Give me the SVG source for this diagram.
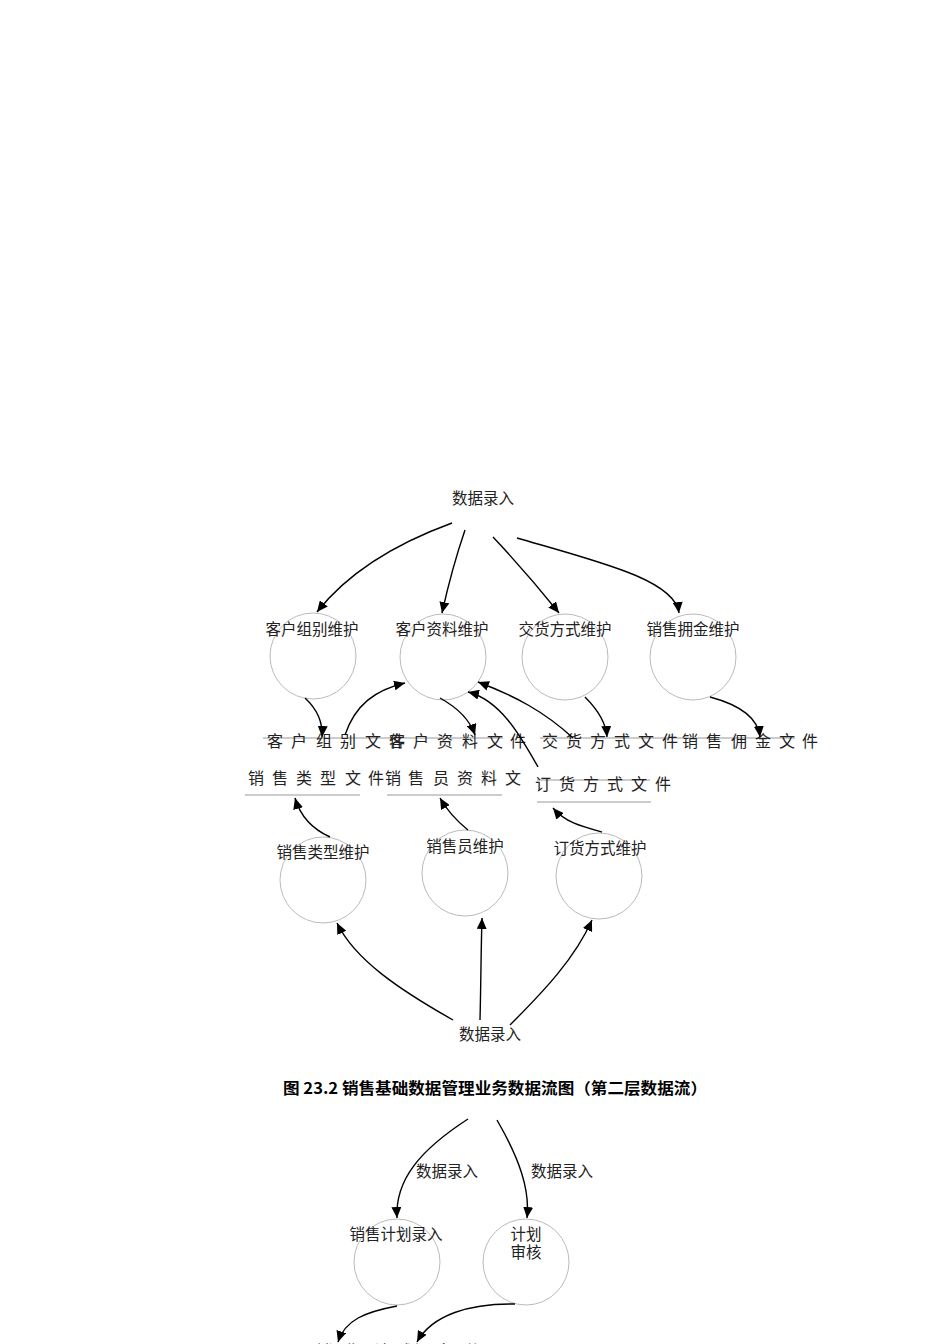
<svg xmlns="http://www.w3.org/2000/svg" width="950" height="1344" viewBox="0 0 950 1344">
<style>
.lbl{font-family:"Noto Sans CJK SC","Noto Sans CJK JP",sans-serif;font-size:15.5px;fill:#222;text-anchor:middle}
.file{font-family:"Noto Sans CJK SC","Noto Sans CJK JP",sans-serif;font-size:16px;fill:#222}
.proc{fill:none;stroke:#bbb;stroke-width:1}
.store{stroke:#999;stroke-width:1}
.flow{fill:none;stroke:#000;stroke-width:1.4;marker-end:url(#arr)}
.cap{font-family:"Noto Sans CJK SC",sans-serif;font-size:15.5px;font-weight:bold;fill:#000}
</style>
<defs>
<marker id="arr" markerUnits="userSpaceOnUse" markerWidth="12" markerHeight="10" refX="11" refY="5" orient="auto">
<path d="M0,0 L11,5 L0,10 z" fill="#000"/>
</marker>
</defs>
<rect width="950" height="1344" fill="#fff"/>

<g id="src-top"><text class="lbl" x="483" y="504">数据录入</text></g>

<g id="p-khzb"><circle class="proc" cx="313" cy="656" r="43"/><text class="lbl" x="312" y="635">客户组别维护</text></g>
<g id="p-khzl"><circle class="proc" cx="443" cy="657" r="43"/><text class="lbl" x="442" y="635">客户资料维护</text></g>
<g id="p-jhfs"><circle class="proc" cx="565" cy="657" r="43"/><text class="lbl" x="565" y="635">交货方式维护</text></g>
<g id="p-xsyj"><circle class="proc" cx="693" cy="657" r="43"/><text class="lbl" x="693" y="635">销售拥金维护</text></g>

<g id="f-khzb"><line class="store" x1="263" y1="738" x2="503" y2="738"/><text class="file" x="267 291 316 340 365 389" y="747">客户组别文件</text></g>
<g id="f-khzl"><text class="file" x="389 413 437 462 487 510" y="747">客户资料文件</text></g>
<g id="f-jhfs"><line class="store" x1="540" y1="738" x2="795" y2="738"/><text class="file" x="542 566 590 614 638 662" y="747">交货方式文件</text></g>
<g id="f-xsyj"><text class="file" x="682 706 731 755 779 802" y="747">销售佣金文件</text></g>

<g id="f-xslx"><line class="store" x1="245" y1="795" x2="360" y2="795"/><text class="file" x="248 272 296 320 345 368" y="784">销售类型文件</text></g>
<g id="f-xsyzl"><line class="store" x1="387" y1="795" x2="502" y2="795"/><text class="file" x="385 408 433 457 481 505" y="784">销售员资料文</text></g>
<g id="f-dhfs"><line class="store" x1="537" y1="780" x2="650" y2="780"/><line class="store" x1="537" y1="802" x2="651" y2="802"/><text class="file" x="535 559 583 607 631 655" y="790">订货方式文件</text></g>

<g id="p-xslx"><circle class="proc" cx="323" cy="880" r="43"/><text class="lbl" x="323" y="858">销售类型维护</text></g>
<g id="p-xsy"><circle class="proc" cx="465" cy="873" r="43"/><text class="lbl" x="465" y="852">销售员维护</text></g>
<g id="p-dhfs"><circle class="proc" cx="599" cy="876" r="43"/><text class="lbl" x="600" y="854">订货方式维护</text></g>

<g id="src-bottom"><text class="lbl" x="490" y="1040">数据录入</text></g>

<g id="caption"><text class="cap" x="283" y="1094" textLength="424" lengthAdjust="spacingAndGlyphs">图 23.2 销售基础数据管理业务数据流图（第二层数据流）</text></g>

<g id="p-xsjh"><circle class="proc" cx="397" cy="1262" r="43"/><text class="lbl" x="396" y="1240">销售计划录入</text></g>
<g id="p-jhsh"><circle class="proc" cx="526" cy="1262" r="43"/><text class="lbl" x="526" y="1240">计划<tspan x="526" dy="18">审核</tspan></text></g>
<g id="f-xsjh"><text class="file" x="316 345 374 403 436 465" y="1357">销售计划文件</text></g>

<g id="connectors">
<path class="flow" d="M452,523 C400,542 350,570 317,612"/>
<path class="flow" d="M465,530 Q452,568 442,613"/>
<path class="flow" d="M493,537 Q527,573 559,613"/>
<path class="flow" d="M517,538 C600,562 675,580 679,613"/>
<path class="flow" d="M305,698 C318,710 323,722 322,737"/>
<path class="flow" d="M345,735 C355,705 375,690 405,683"/>
<path class="flow" d="M440,698 C458,708 470,720 475,735"/>
<path class="flow" d="M573,738 C545,712 515,696 478,682"/>
<path class="flow" d="M538,767 C520,735 500,700 468,692"/>
<path class="flow" d="M585,697 C598,710 606,722 607,737"/>
<path class="flow" d="M710,697 C740,705 758,718 760,737"/>
<path class="flow" d="M330,837 C310,828 300,815 295,798"/>
<path class="flow" d="M468,830 C458,822 448,812 440,798"/>
<path class="flow" d="M602,832 C580,826 565,822 553,808"/>
<path class="flow" d="M453,1020 C400,990 355,960 337,923"/>
<path class="flow" d="M480,1020 C481,980 481,950 482,918"/>
<path class="flow" d="M510,1025 C545,990 575,958 592,920"/>
<path class="flow" d="M468,1119 C420,1150 395,1180 397,1218"/>
<path class="flow" d="M497,1120 C520,1160 530,1190 527,1218"/>
<path class="flow" d="M397,1306 C365,1312 345,1320 338,1342"/>
<path class="flow" d="M515,1304 C470,1303 432,1315 417,1342"/>
</g>
<g id="labels-lower">
<text class="lbl" x="447" y="1177">数据录入</text>
<text class="lbl" x="562" y="1177">数据录入</text>
</g>
</svg>
